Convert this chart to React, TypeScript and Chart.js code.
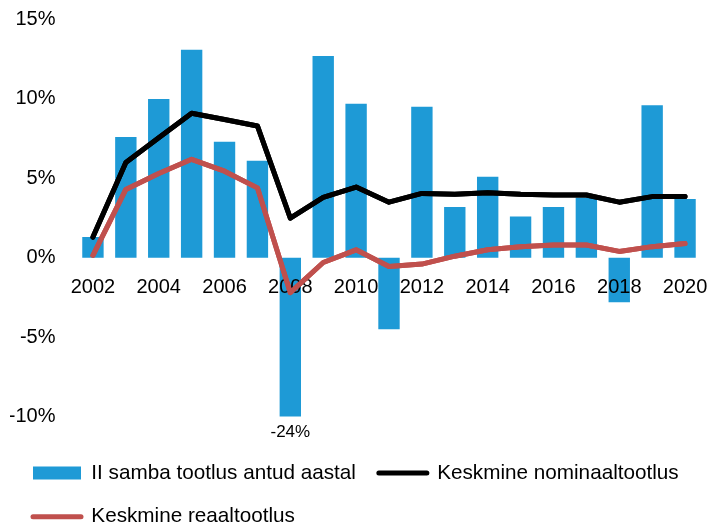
import React, { useEffect, useRef } from 'react';
import { Chart, registerables } from 'chart.js';

Chart.register(...registerables);

const years = ['2002', '2003', '2004', '2005', '2006', '2007', '2008', '2009', '2010', '2011', '2012', '2013', '2014', '2015', '2016', '2017', '2018', '2019', '2020'];
const annualReturn = [1.3, 7.6, 10.0, 13.1, 7.3, 6.1, -24, 12.7, 9.7, -4.5, 9.5, 3.2, 5.1, 2.6, 3.2, 3.8, -2.8, 9.6, 3.7];
const nominalAvg = [1.3, 6.0, 7.55, 9.1, 8.7, 8.3, 2.5, 3.8, 4.45, 3.5, 4.05, 4.0, 4.1, 4.0, 3.95, 3.95, 3.5, 3.85, 3.85];
const realAvg = [0.15, 4.3, 5.3, 6.2, 5.45, 4.4, -2.2, -0.3, 0.5, -0.55, -0.4, 0.1, 0.5, 0.7, 0.8, 0.8, 0.4, 0.7, 0.9];
const seriesNames = ['II samba tootlus antud aastal', 'Keskmine nominaaltootlus', 'Keskmine reaaltootlus'];
const yMin = -10;
const yMax = 15;
const yStep = 5;

const FONT = "'Liberation Sans', Arial, sans-serif";

const offScaleLabels = {
  id: 'offScaleLabels',
  afterDatasetsDraw(chart: any) {
    const meta = chart.getDatasetMeta(0);
    const yScale = chart.scales.y;
    const ctx = chart.ctx;
    ctx.save();
    ctx.font = `17px ${FONT}`;
    ctx.fillStyle = '#000';
    ctx.textAlign = 'center';
    ctx.textBaseline = 'middle';
    annualReturn.forEach((v, i) => {
      if (v < yScale.min) {
        const el = meta.data[i];
        ctx.fillText(`${v}%`, el.x, yScale.bottom + 15.5);
      }
    });
    ctx.restore();
  },
};

// x labels sit above the bars but below the lines: redraw the line datasets last
const linesOnTop = {
  id: 'linesOnTop',
  afterDraw(chart: any) {
    const ctx = chart.ctx;
    const a = chart.chartArea;
    [2, 1].forEach((idx) => {
      const meta = chart.getDatasetMeta(idx);
      if (!meta || meta.hidden) return;
      ctx.save();
      ctx.beginPath();
      ctx.rect(a.left - 5, a.top - 5, a.right - a.left + 10, a.bottom - a.top + 10);
      ctx.clip();
      meta.controller.draw();
      ctx.restore();
    });
  },
};

export default function App() {
  const ref = useRef<HTMLCanvasElement>(null);
  useEffect(() => {
    if (!ref.current) return;
    Chart.defaults.font.family = FONT;
    Chart.defaults.color = '#000';
    const baseGen = Chart.defaults.plugins.legend.labels.generateLabels;
    const chart = new Chart(ref.current, {
      type: 'bar',
      data: {
        labels: years,
        datasets: [
          {
            type: 'bar',
            label: seriesNames[0],
            data: annualReturn,
            backgroundColor: '#1E9AD6',
            borderWidth: 0,
            barPercentage: 0.65,
            categoryPercentage: 1,
            pointStyle: 'rect',
            order: 5,
          } as any,
          {
            type: 'line',
            label: seriesNames[1],
            data: nominalAvg,
            borderColor: '#000000',
            backgroundColor: '#000000',
            borderWidth: 5,
            pointRadius: 0,
            pointBorderWidth: 5,
            pointBorderColor: '#000000',
            pointStyle: 'line',
            tension: 0,
            borderJoinStyle: 'round',
            borderCapStyle: 'round',
            order: 2,
          } as any,
          {
            type: 'line',
            label: seriesNames[2],
            data: realAvg,
            borderColor: '#C0504D',
            backgroundColor: '#C0504D',
            borderWidth: 5,
            pointRadius: 0,
            pointBorderWidth: 5,
            pointBorderColor: '#C0504D',
            pointStyle: 'line',
            tension: 0,
            borderJoinStyle: 'round',
            borderCapStyle: 'round',
            order: 1,
          } as any,
        ],
      },
      options: {
        animation: false,
        responsive: true,
        maintainAspectRatio: false,
        layout: { padding: { top: 19.5, left: 10, right: 0, bottom: -8 } },
        plugins: {
          tooltip: { enabled: false },
          legend: {
            position: 'bottom',
            align: 'start',
            title: { display: true, text: '', padding: { top: 13, bottom: 0 }, font: { size: 10, lineHeight: 1 } },
            labels: {
              usePointStyle: true,
              pointStyleWidth: 48,
              boxHeight: 13,
              padding: 23,
              color: '#000',
              font: { size: 20.7, family: FONT },
              sort: (a: any, b: any) => a.datasetIndex - b.datasetIndex,
              generateLabels: (c: any) =>
                baseGen(c).map((it: any) => (it.pointStyle === 'line' ? { ...it, lineCap: 'round' } : it)),
            },
          },
        },
        scales: {
          x: {
            position: { y: 0 } as any,
            offset: true,
            grid: { display: false, drawTicks: false },
            border: { display: false },
            afterFit: (scale: any) => {
              scale.paddingRight = 22.5;
            },
            ticks: {
              z: 1,
              autoSkip: false,
              maxRotation: 0,
              padding: 17.5,
              font: { size: 20 },
              color: '#000',
              callback: (_v: any, i: number) => (i % 2 === 0 ? years[i] : ''),
            },
          },
          y: {
            min: yMin,
            max: yMax,
            grid: { display: false, drawTicks: false },
            border: { display: false },
            afterFit: (scale: any) => {
              scale.width = 66.5;
              scale.paddingTop = 0;
              scale.paddingBottom = 0;
            },
            ticks: {
              stepSize: yStep,
              padding: 21,
              font: { size: 20 },
              color: '#000',
              callback: (v: any) => `${v}%`,
            },
          },
        },
      },
      plugins: [offScaleLabels, linesOnTop],
    });
    return () => chart.destroy();
  }, []);
  return (
    <div style={{ position: 'fixed', left: 0, top: 0, width: 724, height: 529 }}>
      <canvas ref={ref} />
    </div>
  );
}
